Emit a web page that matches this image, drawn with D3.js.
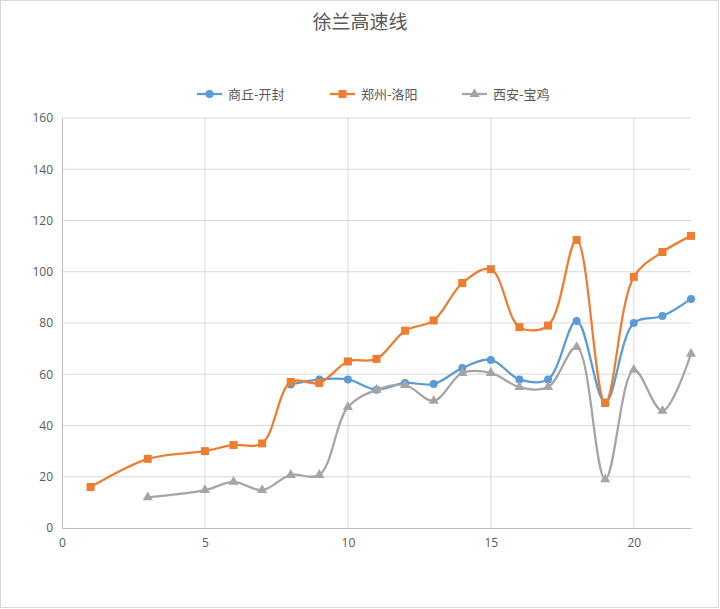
<!DOCTYPE html>
<html>
<head>
<meta charset="utf-8">
<script src="https://cdn.jsdelivr.net/npm/d3@7.9.0/dist/d3.min.js"></script>
<style>
  body { margin: 0; background: #fff; }
  svg { display: block; font-family: "Noto Sans CJK SC", "Noto Sans", sans-serif; }
</style>
</head>
<body>
<svg id="chart" width="720" height="609"></svg>
<script>
// x positions (km section index)
const xs = [1, 2, 3, 4, 5, 6, 7, 8, 9, 10, 11, 12, 13, 14, 15, 16, 17, 18, 19, 20, 21, 22];

// series values, null = no data
const shangqiuKaifeng = [null, null, null, null, null, null, null, 56, 58, 58, 54, 56.6, 56.2, 62.4, 65.6, 58, 58, 80.8, 49, 80, 82.7, 89.4];
const zhengzhouLuoyang = [16, null, 27, null, 30, 32.4, 33, 57, 56.6, 65, 66, 77, 81, 95.6, 101, 78.4, 79, 112.4, 48.8, 98, 107.7, 114];
const xianBaoji = [null, null, 12, null, 14.8, 18, 14.8, 20.7, 20.7, 47.2, 53.9, 55.8, 49.6, 60.5, 60.5, 55, 55, 70.6, 19, 61.7, 45.7, 68];

const seriesNames = ['商丘-开封', '郑州-洛阳', '西安-宝鸡'];
const seriesColors = ['#5b9bd5', '#ed7d31', '#a5a5a5'];
const seriesShapes = ['circle', 'square', 'triangle'];
const xTicks = [0, 5, 10, 15, 20];
const yTicks = [0, 20, 40, 60, 80, 100, 120, 140, 160];

const allSeries = [shangqiuKaifeng, zhengzhouLuoyang, xianBaoji];

const svg = d3.select('#chart');
const W = 720, H = 609;

// outer chart border
svg.append('rect')
  .attr('x', 0.5).attr('y', 0.5)
  .attr('width', W - 2).attr('height', H - 2)
  .attr('fill', '#fff').attr('stroke', '#d9d9d9');

const x = d3.scaleLinear().domain([0, 22]).range([62, 691]);
const y = d3.scaleLinear().domain([0, 160]).range([528, 118]);

// title
svg.append('text')
  .attr('x', 360).attr('y', 29)
  .attr('text-anchor', 'middle')
  .attr('font-size', 19)
  .attr('fill', '#595959')
  .text('徐兰高速线');

// gridlines
const grid = svg.append('g');
grid.selectAll('.hg')
  .data(yTicks.filter(d => d > 0))
  .join('line')
  .attr('x1', x(0)).attr('x2', x(22))
  .attr('y1', d => y(d)).attr('y2', d => y(d))
  .attr('stroke', '#d9d9d9').attr('stroke-width', 1);
grid.selectAll('.vg')
  .data(xTicks.filter(d => d > 0))
  .join('line')
  .attr('x1', d => x(d)).attr('x2', d => x(d))
  .attr('y1', y(0)).attr('y2', y(160))
  .attr('stroke', '#d9d9d9').attr('stroke-width', 1);

// axes
const yAxis = svg.append('g')
  .attr('transform', `translate(${x(0)},0)`)
  .call(d3.axisLeft(y).tickValues(yTicks).tickSize(0).tickPadding(9));
const xAxis = svg.append('g')
  .attr('transform', `translate(0,${y(0)})`)
  .call(d3.axisBottom(x).tickValues(xTicks).tickSize(0).tickPadding(10));
[xAxis, yAxis].forEach(g => {
  g.select('.domain').attr('stroke', '#bfbfbf');
  g.selectAll('text')
    .attr('fill', '#595959')
    .attr('font-size', 12)
    .attr('font-family', '"Open Sans", "Noto Sans", sans-serif');
});

// lines
const line = d3.line()
  .defined(d => d[1] != null)
  .x(d => x(d[0]))
  .y(d => y(d[1]))
  .curve(d3.curveCatmullRom.alpha(0.5));

function drawMarker(g, shape, color, size) {
  if (shape === 'circle') {
    g.append('circle').attr('r', size / 2).attr('fill', color);
  } else if (shape === 'square') {
    g.append('rect')
      .attr('x', -size / 2).attr('y', -size / 2)
      .attr('width', size).attr('height', size)
      .attr('fill', color);
  } else {
    g.append('path')
      .attr('d', d3.symbol(d3.symbolTriangle, size * size * 0.7)())
      .attr('fill', color);
  }
}

allSeries.forEach((vals, i) => {
  const pts = xs.map((xv, j) => [xv, vals[j]]).filter(d => d[1] != null);
  svg.append('path')
    .datum(pts)
    .attr('fill', 'none')
    .attr('stroke', seriesColors[i])
    .attr('stroke-width', 2.25)
    .attr('d', line);
  pts.forEach(p => {
    const g = svg.append('g').attr('transform', `translate(${x(p[0])},${y(p[1])})`);
    drawMarker(g, seriesShapes[i], seriesColors[i], 8);
  });
});

// legend
const legendX = [197, 330, 462];
seriesNames.forEach((name, i) => {
  const g = svg.append('g').attr('transform', `translate(${legendX[i]},94)`);
  g.append('line')
    .attr('x1', 0).attr('x2', 25)
    .attr('stroke', seriesColors[i]).attr('stroke-width', 2.25);
  const m = g.append('g').attr('transform', 'translate(12.5,0)');
  drawMarker(m, seriesShapes[i], seriesColors[i], 8);
  g.append('text')
    .attr('x', 31).attr('y', 0)
    .attr('dy', '0.35em')
    .attr('font-size', 13)
    .attr('fill', '#595959')
    .text(name);
});
</script>
</body>
</html>
